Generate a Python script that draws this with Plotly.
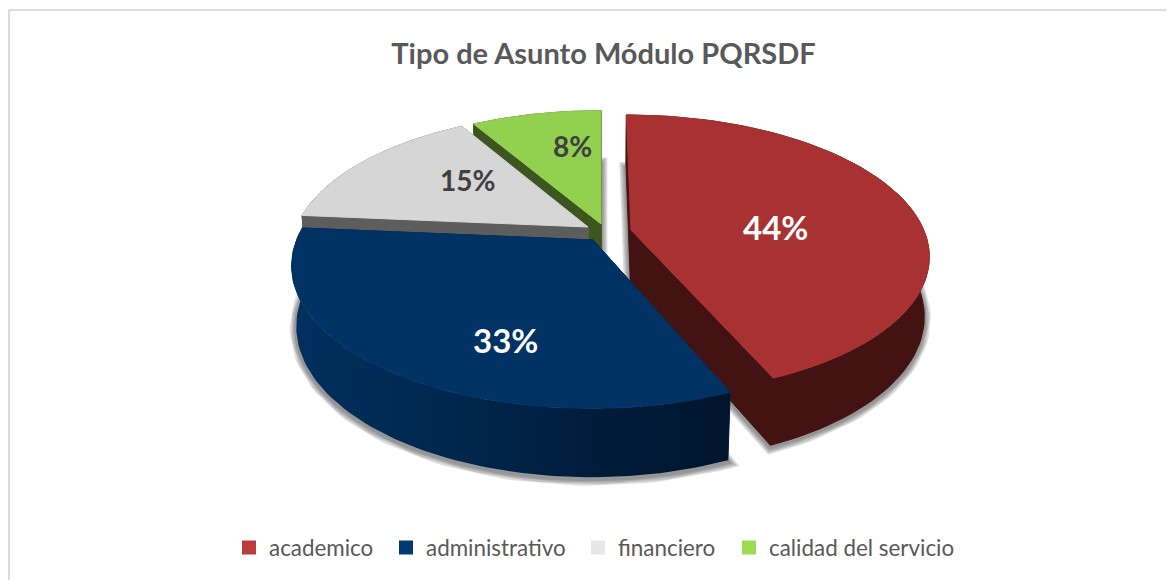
import numpy as np
import plotly.graph_objects as go

# datos (las etiquetas salen redondeadas: 44, 33, 15, 8)
categorias = ["academico", "administrativo", "financiero", "calidad del servicio"]
porcentajes = [43.6, 32.8, 15.2, 8.4]

# estilo de cada porcion
color_tapa = ["#A83232", "#003263", "#D6D6D6", "#92D050"]
color_leyenda = ["#BE3B3B", "#003A70", "#E7E7E7", "#9BDC53"]
color_lado = ["#431313", None, "#5D5D5D", "#3D551E"]
degradado_azul = [[0, "#00305F"], [0.4, "#00264C"], [0.75, "#001A38"], [1, "#00152D"]]
color_texto = ["white", "white", "#404040", "#404040"]
tam_etiqueta = [33, 33, 28, 28]
# vertice de cada porcion en pantalla (la explosion del pastel) y sitio de etiqueta
vertice = [(631, 230), (593, 240), (588, 227), (601, 224)]
sitio_etiqueta = [(775, 227), (505, 340), (467, 180), (572, 146)]
sitio_leyenda = [243, 400, 592, 743]
orden_dibujo = [3, 2, 0, 1]  # de atras hacia delante

# perspectiva del disco
CX, CY = 600, 236
R, B, K = 295, 137.2, 0.1757
ALTO, ENCOGE = 60, 0.015

# el body de la pagina deja 8 px de margen
MARGEN = 8
ANCHO, ALTURA = 1174, 580


def proyecta(u, v, abajo=False):
    m = ENCOGE if abajo else 0
    s = 1 / (1 + K * v + m)
    return CX + R * u * s, CY - B * v * s + (ALTO * s if abajo else 0)


def origen(px, py):
    t = (CY - py) / B
    v0 = t / (1 - K * t)
    return (px - CX) * (1 + K * v0) / R, v0


def borde(i, a_ini, a_fin, abajo=False):
    a = np.radians(np.linspace(a_ini, a_fin, 80))
    u0, v0 = origen(*vertice[i])
    return proyecta(u0 + np.sin(a), v0 + np.cos(a), abajo)


def centro(i, abajo=False):
    u0, v0 = origen(*vertice[i])
    return proyecta(u0, v0, abajo)


def poligono(x, y, color=None, gradiente=None):
    extra = {}
    if gradiente:
        extra["fillgradient"] = dict(type="horizontal", colorscale=gradiente)
        linea = dict(width=0)
    else:
        extra["fillcolor"] = color
        linea = dict(width=1, color=color)  # tapa las juntas entre poligonos
    return go.Scatter(
        x=list(x), y=list(y), mode="lines", fill="toself", line=linea,
        showlegend=False, hoverinfo="skip", **extra
    )


def pos_x(px):
    return (px - MARGEN) / (ANCHO - MARGEN)


def pos_y(py):
    return 1 - (py - MARGEN) / (ALTURA - MARGEN)


fig = go.Figure()

limites = np.cumsum([0] + porcentajes) * 3.6

# sombra difusa bajo cada porcion
for i in orden_dibujo:
    x, y = borde(i, limites[i], limites[i + 1], True)
    cx, cy = centro(i, True)
    xs = [cx, *x, cx]
    ys = [cy + 2, *(y + 2), cy + 2]
    for ancho in [13, 10, 7, 4]:
        fig.add_trace(go.Scatter(
            x=xs, y=ys, mode="lines",
            line=dict(width=ancho, color="rgba(50,50,50,0.16)"),
            showlegend=False, hoverinfo="skip",
        ))

for i in orden_dibujo:
    ini, fin = limites[i], limites[i + 1]
    xt, yt = borde(i, ini, fin)
    xb, yb = borde(i, ini, fin, True)
    cxt, cyt = centro(i)
    cxb, cyb = centro(i, True)
    plano = color_lado[i] or "#00264C"
    # paredes radiales
    fig.add_trace(poligono([cxt, xt[0], xb[0], cxb, cxt], [cyt, yt[0], yb[0], cyb, cyt], plano))
    fig.add_trace(poligono([cxt, xt[-1], xb[-1], cxb, cxt], [cyt, yt[-1], yb[-1], cyb, cyt], plano))
    # pared exterior
    fig.add_trace(poligono(
        [*xt, *xb[::-1], xt[0]], [*yt, *yb[::-1], yt[0]], color_lado[i],
        gradiente=None if color_lado[i] else degradado_azul,
    ))
    # tapa
    fig.add_trace(poligono([cxt, *xt, cxt], [cyt, *yt, cyt], color_tapa[i]))

# leyenda, una por categoria para fijar la separacion
leyendas = {}
for n, (nombre, color, lx) in enumerate(zip(categorias, color_leyenda, sitio_leyenda)):
    clave = "legend" if n == 0 else f"legend{n + 1}"
    fig.add_trace(go.Scatter(
        x=[None], y=[None], mode="markers", name=nombre, legend=clave,
        marker=dict(symbol="square", size=14, color=color),
    ))
    leyendas[clave] = dict(
        orientation="h", x=pos_x(lx - 14), xanchor="left", y=pos_y(548), yanchor="middle",
        font=dict(family="Lato", size=22.4, color="#595959"),
        itemwidth=30, bgcolor="rgba(0,0,0,0)",
    )

for p, (lx, ly), c, t in zip(porcentajes, sitio_etiqueta, color_texto, tam_etiqueta):
    fig.add_annotation(
        x=lx, y=ly, text=f"<b>{round(p)}%</b>", showarrow=False,
        font=dict(family="Lato", size=t, color=c),
    )

# marco: solo se ve arriba y a la izquierda
fig.add_shape(type="line", x0=9, x1=ANCHO, y0=10, y1=10, line=dict(color="#DCDCDC", width=2))
fig.add_shape(type="line", x0=9, x1=9, y0=10, y1=ALTURA, line=dict(color="#DCDCDC", width=2))

fig.update_layout(
    width=ANCHO - MARGEN,
    height=ALTURA - MARGEN,
    margin=dict(l=0, r=0, t=0, b=0),
    paper_bgcolor="white",
    plot_bgcolor="white",
    title=dict(
        text="<b>Tipo de Asunto Módulo PQRSDF</b>",
        x=pos_x(603.5), xanchor="center", y=pos_y(54), yanchor="middle",
        font=dict(family="Lato", size=29, color="#595959"),
    ),
    xaxis=dict(range=[MARGEN, ANCHO], visible=False, fixedrange=True),
    yaxis=dict(range=[ALTURA, MARGEN], visible=False, fixedrange=True),
    **leyendas,
)

fig.write_html("out.html")
